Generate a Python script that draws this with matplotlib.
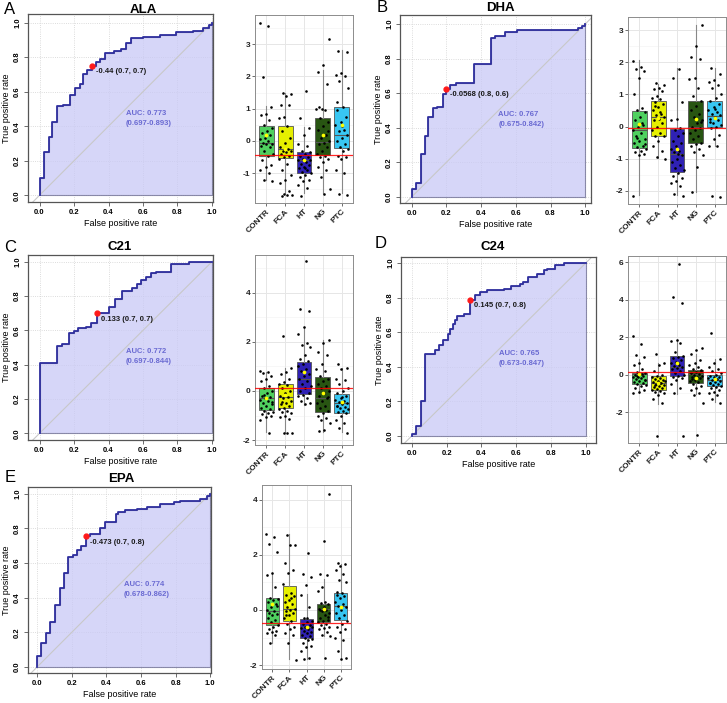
# -*- coding: utf-8 -*-

import numpy as np
import matplotlib.pyplot as plt

plt.rcParams["font.family"] = ["Liberation Sans", "DejaVu Sans"]
plt.rcParams["font.weight"] = "bold"

W, H = 727, 703

# ---------------- data ----------------
groups = ["CONTR", "FCA", "HT", "NG", "PTC"]
group_colors = ["#4fd05f", "#e6ef00", "#2f21b4", "#285512", "#38c6f2"]

names = ["ALA", "DHA", "C21", "C24", "EPA"]
letters = ["A", "B", "C", "D", "E"]

# ROC corners (fpr where the curve rises, tpr after rise)
ala_fpr = [0, 0, 0.023, 0.052, 0.071, 0.10, 0.135, 0.177, 0.206, 0.235, 0.25, 0.275, 0.304,
           0.33, 0.35, 0.38, 0.43, 0.47, 0.50, 0.53, 0.60, 0.70, 0.79, 0.89, 0.95, 0.98, 1.0]
ala_tpr = [0, 0.10, 0.25, 0.335, 0.425, 0.516, 0.525, 0.58, 0.62, 0.645, 0.70, 0.725, 0.75,
           0.77, 0.79, 0.826, 0.835, 0.845, 0.884, 0.909, 0.919, 0.928, 0.944, 0.954, 0.967, 0.986, 1.0]
dha_fpr = [0, 0, 0.025, 0.052, 0.077, 0.096, 0.121, 0.148, 0.178, 0.2, 0.22, 0.255, 0.313,
           0.36, 0.455, 0.48, 0.537, 0.605, 0.96, 0.98, 1.0]
dha_tpr = [0, 0.048, 0.081, 0.247, 0.351, 0.463, 0.512, 0.521, 0.593, 0.627, 0.647, 0.656, 0.66,
           0.766, 0.917, 0.93, 0.956, 0.965, 0.975, 0.99, 1.0]
c21_fpr = [0, 0, 0.1, 0.129, 0.173, 0.2, 0.225, 0.27, 0.3, 0.331, 0.405, 0.437, 0.48, 0.534,
           0.563, 0.586, 0.617, 0.649, 0.678, 0.765, 0.867, 1.0]
c21_tpr = [0, 0.408, 0.509, 0.518, 0.583, 0.598, 0.612, 0.621, 0.641, 0.699, 0.738, 0.78, 0.829,
           0.845, 0.87, 0.893, 0.913, 0.932, 0.942, 0.984, 1.0, 1.0]
c24_fpr = [0, 0, 0.025, 0.052, 0.077, 0.134, 0.153, 0.178, 0.205, 0.22, 0.235, 0.25, 0.259,
           0.297, 0.335, 0.364, 0.393, 0.431, 0.53, 0.569, 0.619, 0.64, 0.667, 0.718, 0.757,
           0.776, 0.824, 0.872, 1.0]
c24_tpr = [0, 0.01, 0.058, 0.2, 0.473, 0.496, 0.525, 0.554, 0.592, 0.62, 0.645, 0.67, 0.692,
           0.704, 0.788, 0.813, 0.833, 0.842, 0.852, 0.865, 0.877, 0.89, 0.919, 0.938, 0.958,
           0.967, 0.987, 1.0, 1.0]
epa_fpr = [0, 0, 0.023, 0.052, 0.077, 0.106, 0.131, 0.154, 0.179, 0.208, 0.231, 0.256, 0.283,
           0.308, 0.362, 0.39, 0.458, 0.47, 0.51, 0.577, 0.635, 0.712, 0.788, 0.827, 0.942, 0.98, 1.0]
epa_tpr = [0, 0.065, 0.138, 0.195, 0.262, 0.358, 0.454, 0.544, 0.636, 0.646, 0.674, 0.697, 0.755,
           0.766, 0.799, 0.837, 0.881, 0.893, 0.904, 0.914, 0.923, 0.939, 0.952, 0.958, 0.966, 0.985, 1.0]

# cutoff point (fpr, tpr), labels, AUC
cut_points = [(0.304, 0.75), (0.2, 0.627), (0.331, 0.699), (0.335, 0.788), (0.283, 0.755)]
cut_labels = ["-0.44 (0.7, 0.7)", "-0.0568 (0.8, 0.6)", "0.133 (0.7, 0.7)",
              "0.145 (0.7, 0.8)", "-0.473 (0.7, 0.8)"]
auc_labels = ["AUC: 0.773\n(0.697-0.893)", "AUC: 0.767\n(0.675-0.842)",
              "AUC: 0.772\n(0.697-0.844)", "AUC: 0.765\n(0.673-0.847)",
              "AUC: 0.774\n(0.678-0.862)"]
thresholds = [-0.44, -0.0568, 0.133, 0.145, -0.473]

# box stats per group: q1, median, q3, whisker low, whisker high, mean
ala_box = [(-0.45, -0.05, 0.46, -1.2, 1.08, 0.2), (-0.54, -0.26, 0.46, -1.62, 1.47, -0.25),
           (-0.98, -0.59, -0.33, -1.62, 0.44, -0.59), (-0.43, -0.02, 0.7, -1.6, 2.2, 0.2),
           (-0.23, 0.19, 1.04, -1.62, 2.83, 0.49)]
dha_box = [(-0.67, -0.1, 0.49, -2.12, 2.07, 0.08), (-0.28, 0.31, 0.8, -0.98, 1.34, 0.28),
           (-1.4, -0.85, -0.07, -2.12, 1.81, -0.69), (-0.5, -0.02, 0.81, -2.05, 3.15, 0.24),
           (0.0, 0.33, 0.81, -0.6, 1.81, 0.28)]
c21_box = [(-0.78, -0.27, 0.13, -1.66, 0.77, -0.27), (-0.71, -0.23, 0.27, -1.68, 0.94, -0.16),
           (-0.13, 0.5, 1.17, -0.57, 2.6, 0.77), (-0.85, -0.3, 0.58, -1.66, 2.06, -0.07),
           (-0.9, -0.5, -0.11, -1.66, 0.92, -0.44)]
c24_box = [(-0.52, 0.02, 0.09, -0.98, 0.86, 0.02), (-0.84, -0.45, -0.07, -1.59, 0.6, -0.45),
           (-0.09, 0.41, 0.98, -1.02, 1.84, 0.63), (-0.43, 0.05, 0.27, -1.02, 1.09, -0.16),
           (-0.62, -0.3, 0.0, -1.46, 0.86, -0.21)]
epa_box = [(-0.56, -0.04, 0.43, -1.2, 1.31, 0.22), (-0.39, 0.02, 0.87, -1.79, 2.75, 0.22),
           (-1.0, -0.62, -0.33, -1.77, 0.57, -0.6), (-0.44, 0.02, 0.23, -0.95, 1.13, 0.05),
           (-0.36, 0.14, 0.61, -1.76, 1.66, 0.12)]

# individual samples per group
ala_pts = [
    [3.64, 3.55, 1.99, 1.05, 0.85, 0.8, 0.65, 0.5, 0.4, 0.3, 0.25, 0.2, 0.1, 0.05, 0.0, -0.05,
     -0.08, -0.1, -0.15, -0.2, -0.3, -0.4, -0.45, -0.6, -0.75, -0.8, -0.9, -1.0, -1.2, -1.25],
    [1.47, 1.45, 1.4, 1.1, 1.1, 0.75, 0.72, 0.45, 0.3, 0.1, -0.05, -0.2, -0.25, -0.3, -0.3,
     -0.35, -0.4, -0.45, -0.5, -0.55, -0.7, -0.9, -1.05, -1.2, -1.3, -1.55, -1.65, -1.67, -1.68, -1.7],
    [1.55, 0.72, 0.4, 0.2, -0.1, -0.15, -0.3, -0.35, -0.4, -0.45, -0.5, -0.55, -0.6, -0.65, -0.7,
     -0.75, -0.8, -0.85, -0.9, -0.95, -1.0, -1.05, -1.1, -1.2, -1.25, -1.35, -1.45, -1.7, -0.6, -0.85],
    [3.15, 2.35, 2.15, 1.75, 1.0, 0.98, 0.95, 0.7, 0.6, 0.45, 0.35, 0.2, 0.1, 0.0, -0.05, -0.1,
     -0.2, -0.3, -0.4, -0.45, -0.5, -0.55, -0.65, -0.8, -0.9, -1.1, -1.5, -1.65, 1.05, 0.3],
    [2.8, 2.75, 2.1, 2.05, 2.0, 1.85, 1.65, 1.05, 0.95, 0.75, 0.6, 0.5, 0.35, 0.3, 0.2, 0.1, 0.0,
     -0.1, -0.2, -0.25, -0.3, -0.45, -0.5, -0.55, -0.9, -1.0, -1.65, -1.68, 0.45, 1.2],
]
dha_pts = [
    [2.05, 1.85, 1.78, 1.72, 1.5, 1.0, 0.58, 0.52, 0.45, 0.3, 0.2, 0.05, 0.0, -0.1, -0.2, -0.3,
     -0.4, -0.45, -0.5, -0.6, -0.65, -0.7, -0.75, -0.8, -0.85, -0.9, -2.15, 0.1, -0.35, -0.55],
    [1.37, 1.3, 1.2, 1.18, 1.1, 0.95, 0.9, 0.85, 0.75, 0.7, 0.6, 0.5, 0.4, 0.35, 0.3, 0.25, 0.2,
     0.1, 0.0, -0.1, -0.2, -0.28, -0.3, -0.45, -0.6, -0.75, -0.95, -1.0, 0.45, 0.65],
    [1.8, 1.5, 0.75, 0.25, 0.2, -0.05, -0.1, -0.2, -0.3, -0.45, -0.5, -0.6, -0.7, -0.75, -0.8,
     -0.9, -1.0, -1.1, -1.2, -1.3, -1.35, -1.45, -1.55, -1.6, -1.7, -1.75, -1.85, -2.1, -2.15, -0.85],
    [3.15, 2.5, 2.15, 2.1, 1.5, 1.48, 1.2, 0.95, 0.8, 0.65, 0.5, 0.4, 0.3, 0.2, 0.1, 0.0, -0.05,
     -0.1, -0.2, -0.3, -0.4, -0.5, -0.55, -0.6, -0.7, -0.8, -0.9, -1.25, -2.05, 0.15],
    [1.82, 1.65, 1.45, 1.4, 1.3, 1.2, 1.0, 0.9, 0.8, 0.7, 0.6, 0.5, 0.45, 0.4, 0.35, 0.3, 0.25,
     0.2, 0.1, 0.05, 0.0, -0.05, -0.25, -0.4, -0.6, -0.62, -2.15, -2.18, 0.55, 0.15],
]
c21_pts = [
    [0.8, 0.75, 0.72, 0.6, 0.5, 0.4, 0.2, 0.1, 0.0, -0.1, -0.2, -0.25, -0.3, -0.35, -0.4, -0.5,
     -0.55, -0.6, -0.7, -0.75, -0.8, -0.85, -0.9, -0.95, -1.0, -1.05, -1.2, -1.7, -0.15, -0.45],
    [2.25, 0.95, 0.75, 0.7, 0.5, 0.35, 0.3, 0.25, 0.1, 0.0, -0.1, -0.2, -0.25, -0.3, -0.4, -0.5,
     -0.55, -0.6, -0.7, -0.75, -0.8, -0.85, -0.9, -1.0, -1.05, -1.15, -1.7, -1.72, -1.7, -0.45],
    [5.3, 3.35, 3.25, 2.6, 2.3, 1.95, 1.85, 1.8, 1.45, 1.3, 1.2, 1.1, 1.0, 0.9, 0.8, 0.7, 0.6,
     0.5, 0.4, 0.3, 0.2, 0.1, 0.0, -0.1, -0.15, -0.2, -0.3, -0.4, -0.5, -0.55],
    [2.07, 1.95, 1.6, 1.45, 1.1, 0.9, 0.8, 0.6, 0.5, 0.4, 0.3, 0.2, 0.1, 0.0, -0.1, -0.2, -0.3,
     -0.4, -0.5, -0.6, -0.7, -0.8, -0.9, -1.0, -1.1, -1.2, -1.3, -1.6, -1.65, -0.25],
    [1.1, 0.95, 0.9, 0.5, 0.45, 0.3, 0.1, 0.0, -0.1, -0.2, -0.3, -0.35, -0.4, -0.45, -0.5, -0.55,
     -0.6, -0.65, -0.7, -0.75, -0.8, -0.85, -0.9, -1.0, -1.2, -1.3, -1.5, -1.7, -0.25, -0.6],
]
c24_pts = [
    [2.05, 1.65, 1.05, 0.95, 0.65, 0.5, 0.3, 0.15, 0.1, 0.05, 0.0, -0.05, -0.1, -0.15, -0.2,
     -0.25, -0.3, -0.35, -0.4, -0.45, -0.5, -0.55, -0.6, -0.7, -0.8, -0.9, -0.98, 0.02, -0.08, -0.3],
    [1.1, 0.65, 0.5, 0.2, 0.0, -0.05, -0.1, -0.2, -0.25, -0.3, -0.35, -0.4, -0.45, -0.5, -0.55,
     -0.6, -0.65, -0.7, -0.75, -0.8, -0.85, -0.9, -1.0, -1.1, -1.3, -1.5, -3.25, -0.35, -0.45, -0.55],
    [5.9, 4.15, 3.85, 1.85, 1.8, 1.7, 1.2, 1.0, 0.95, 0.9, 0.8, 0.7, 0.6, 0.5, 0.45, 0.4, 0.35,
     0.3, 0.2, 0.1, 0.0, -0.05, -0.1, -0.2, -0.3, -0.5, -0.7, -1.0, -3.25, 0.65],
    [1.45, 1.3, 1.1, 0.8, 0.6, 0.5, 0.4, 0.3, 0.2, 0.15, 0.1, 0.05, 0.0, -0.05, -0.1, -0.15,
     -0.2, -0.3, -0.35, -0.4, -0.5, -0.6, -0.7, -0.8, -1.0, -1.1, -1.5, -3.2, -0.25, 0.25],
    [2.2, 0.85, 0.6, 0.4, 0.3, 0.2, 0.1, 0.0, -0.05, -0.1, -0.15, -0.2, -0.25, -0.3, -0.35,
     -0.4, -0.45, -0.5, -0.55, -0.6, -0.65, -0.7, -0.8, -0.9, -1.0, -1.1, -1.3, -1.5, -0.25, -0.45],
]
epa_pts = [
    [2.75, 2.65, 2.4, 2.1, 1.35, 1.25, 0.85, 0.45, 0.4, 0.35, 0.3, 0.2, 0.1, 0.0, -0.05, -0.1,
     -0.15, -0.2, -0.3, -0.35, -0.45, -0.55, -0.6, -0.7, -0.75, -0.8, -0.85, -0.9, -1.2, 0.15],
    [2.7, 2.35, 2.35, 1.7, 1.45, 1.35, 0.95, 0.6, 0.55, 0.5, 0.35, 0.3, 0.2, 0.1, 0.05, 0.0,
     -0.05, -0.1, -0.2, -0.3, -0.4, -0.5, -0.6, -0.7, -0.85, -0.9, -1.2, -1.8, 0.45, -0.2],
    [2.05, 1.3, 1.2, 0.9, 0.55, 0.1, -0.3, -0.4, -0.45, -0.5, -0.55, -0.6, -0.65, -0.7, -0.75,
     -0.8, -0.85, -0.9, -0.95, -1.0, -1.05, -1.1, -1.2, -1.3, -1.35, -1.5, -1.75, -1.78, -0.6, -0.3],
    [4.2, 2.5, 1.3, 1.25, 0.85, 0.7, 0.3, 0.25, 0.2, 0.1, 0.05, 0.0, -0.05, -0.1, -0.2, -0.3,
     -0.35, -0.4, -0.45, -0.5, -0.55, -0.6, -0.65, -0.7, -0.8, -0.9, -0.95, -1.75, 0.0, -0.25],
    [1.7, 1.65, 1.6, 1.45, 1.3, 1.1, 1.0, 0.6, 0.55, 0.5, 0.45, 0.3, 0.2, 0.15, 0.1, 0.0, -0.1,
     -0.2, -0.3, -0.4, -0.5, -0.6, -0.7, -0.8, -1.0, -1.1, -1.5, -1.75, -1.77, 0.65],
]

box_yticks = [[-1, 0, 1, 2, 3], [-2, -1, 0, 1, 2, 3], [-2, 0, 2, 4], [-2, 0, 2, 4, 6], [-2, 0, 2, 4]]

# ---------------- layout (pixels) ----------------
roc_rects = [(28, 14, 213, 202), (400, 15, 591, 203), (28, 255, 213, 440),
             (401, 257, 596, 443), (28, 487, 211, 673)]
roc_xlims = [(-0.067, 1.006), (-0.067, 1.033), (-0.067, 1.006), (-0.063, 1.059), (-0.052, 1.004)]
roc_ylims = [(-0.039, 1.05), (-0.035, 1.052), (-0.039, 1.039), (-0.042, 1.035), (-0.034, 1.038)]
box_rects = [(255, 15, 353, 203), (628, 17, 726, 204), (255, 255, 353, 445),
             (628, 256, 726, 443), (262, 485, 351, 669)]
box_ylims = [(-1.92, 3.9), (-2.41, 3.41), (-2.2, 5.53), (-3.65, 6.34), (-2.14, 4.53)]
title_pos = [(143, 10), (500, 8), (120, 247), (493, 247), (121, 479)]
letter_pos = [(10, 10), (382, 8), (10, 247), (381, 244), (10, 477)]


def px_axes(fig, rect):
    x0, y0, x1, y1 = rect
    return fig.add_axes([x0 / W, 1 - y1 / H, (x1 - x0) / W, (y1 - y0) / H])


def draw_roc(ax, fpr, tpr, i):
    ticks = np.arange(0, 1.01, 0.2)
    for t in ticks:
        ax.axvline(t, color="#d0d0d0", lw=0.6, ls=":", zorder=0)
        ax.axhline(t, color="#d0d0d0", lw=0.6, ls=":", zorder=0)

    ax.fill_between(fpr, 0, tpr, step="post", facecolor="#c9c9f6", alpha=0.75,
                    edgecolor="#6b6b8f", lw=0.8, zorder=1)
    ax.plot([-0.2, 1.2], [-0.2, 1.2], color="#c8c8c8", lw=0.8, zorder=2)
    ax.step(fpr, tpr, where="post", color="#2e2e9e", lw=1.3, zorder=3)

    cx, cy = cut_points[i]
    ax.plot(cx, cy, "o", color="#ff1a1a", ms=3.5, zorder=4)
    ax.annotate(cut_labels[i], (cx, cy), xytext=(4, -6), textcoords="offset pixels",
                fontsize=5.5, va="center", ha="left", color="#1a1a1a")
    ax.text(0.5, 0.445, auc_labels[i], fontsize=5.5, color="#6a6ad2",
            ha="left", va="center", linespacing=1.6)

    ax.set_xlim(roc_xlims[i])
    ax.set_ylim(roc_ylims[i])
    ax.set_xticks(ticks)
    ax.set_yticks(ticks)
    ax.set_xticklabels([f"{t:.1f}" for t in ticks])
    ax.set_yticklabels([f"{t:.1f}" for t in ticks], rotation=90, va="center")
    ax.tick_params(labelsize=5.5, length=3, width=0.6, color="#555555", pad=2)
    ax.set_xlabel("False positive rate", fontsize=6.5, labelpad=2)
    ax.set_ylabel("True positive rate", fontsize=6.5, labelpad=2)
    for s in ax.spines.values():
        s.set_color("#555555")
        s.set_linewidth(0.9)


def draw_box(ax, stats, pts, i):
    ylo, yhi = box_ylims[i]
    yt = box_yticks[i]
    step = yt[1] - yt[0]

    # grid
    for t in np.arange(yt[0] - step, yt[-1] + 2 * step, step / 2):
        major = abs((t - yt[0]) / step - round((t - yt[0]) / step)) < 1e-6
        ax.axhline(t, color="#e6e6e6" if major else "#f2f2f2", lw=0.7 if major else 0.4, zorder=0)
    for k in range(1, 6):
        ax.axvline(k, color="#e6e6e6", lw=0.7, zorder=0)

    bstats = []
    for q1, med, q3, lo, hi, mn in stats:
        bstats.append({"q1": q1, "med": med, "q3": q3, "whislo": lo, "whishi": hi,
                       "fliers": []})
    bp = ax.bxp(bstats, positions=range(1, 6), widths=0.78, patch_artist=True,
                showcaps=False, showfliers=False,
                boxprops=dict(edgecolor="#555555", linewidth=0.6),
                medianprops=dict(color="#555555", linewidth=0.8),
                whiskerprops=dict(color="#888888", linewidth=0.8))
    for patch, c in zip(bp["boxes"], group_colors):
        patch.set_facecolor(c)
        patch.set_zorder(2)

    for k, vals in enumerate(pts):
        n = len(vals)
        jit = ((np.arange(n) * 0.618034 + 0.31 * k) % 1 - 0.5) * 0.72
        ax.scatter(k + 1 + jit, vals, s=3.5, color="black", lw=0, zorder=3)

    ax.scatter(range(1, 6), [s[5] for s in stats], s=7, color="#ffff00", lw=0, zorder=4)
    ax.axhline(thresholds[i], color="#ff0000", lw=0.9, alpha=0.85, zorder=5)

    ax.set_xlim(0.4, 5.6)
    ax.set_ylim(ylo, yhi)
    ax.set_yticks(yt)
    ax.set_yticklabels([str(t) for t in yt])
    ax.set_xticks(range(1, 6))
    ax.set_xticklabels(groups, rotation=45, ha="right", rotation_mode="anchor", fontsize=5)
    ax.tick_params(labelsize=6, length=2, width=0.5, color="#333333", pad=1.5,
                   labelcolor="#222222")
    for s in ax.spines.values():
        s.set_color("#8c8c8c")
        s.set_linewidth(0.7)


def main():
    fig = plt.figure(figsize=(W / 100, H / 100), dpi=100)

    rocs = [(ala_fpr, ala_tpr), (dha_fpr, dha_tpr), (c21_fpr, c21_tpr),
            (c24_fpr, c24_tpr), (epa_fpr, epa_tpr)]
    boxes = [ala_box, dha_box, c21_box, c24_box, epa_box]
    points = [ala_pts, dha_pts, c21_pts, c24_pts, epa_pts]

    for i in range(5):
        ax = px_axes(fig, roc_rects[i])
        draw_roc(ax, rocs[i][0], rocs[i][1], i)

        bx = px_axes(fig, box_rects[i])
        draw_box(bx, boxes[i], points[i], i)

        tx, ty = title_pos[i]
        fig.text(tx / W, 1 - ty / H, names[i], fontsize=9.5, ha="center", va="center")
        lx, ly = letter_pos[i]
        fig.text(lx / W, 1 - ly / H, letters[i], fontsize=12, fontweight="normal",
                 ha="center", va="center")

    fig.savefig("out.png", dpi=100)


if __name__ == "__main__":
    main()
